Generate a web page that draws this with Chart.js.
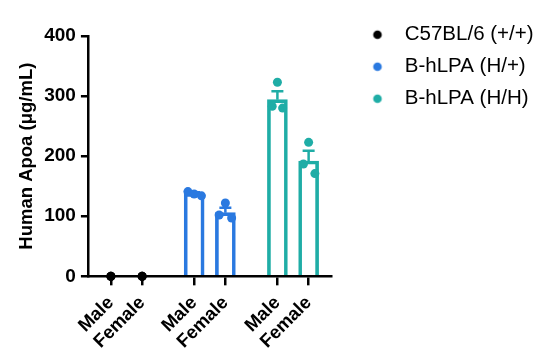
<!DOCTYPE html>
<html><head><meta charset="utf-8">
<script src="https://cdn.jsdelivr.net/npm/chart.js@4/dist/chart.umd.min.js"></script>
<style>html,body{margin:0;padding:0;background:#fff}canvas{display:block}</style>
</head><body>
<canvas id="c" width="538" height="361"></canvas>
<script>
// ---- data ----
const categories = ['Male', 'Female', 'Male', 'Female', 'Male', 'Female'];
const groups = ['C57BL/6 (+/+)', 'B-hLPA (H/+)', 'B-hLPA (H/H)'];
const c57Values = [[0, 0, 0], [0, 0, 0]];
const hPlusValues = [[141, 137, 134], [122, 102, 97]];
const hHValues = [[323, 283, 280], [223, 187, 171]];
const barMeans = [0, 0, 138, 106, 294, 192];
const barSEM = [0, 0, 2, 8, 14, 17];
const yTicks = [0, 100, 200, 300, 400];

// ---- layout / style ----
const slotPos = [0, 3, 8, 11, 16, 19];
const jitter = {
  c57: [[0, 0, 0], [0, 0, 0]],
  hPlus: [[-0.6, 0, 0.7], [0, -0.6, 0.6]],
  hH: [[0, -0.5, 0.5], [0, -0.5, 0.6]]
};
const colors = ['#000000', '#2a79e0', '#1fada6'];
const barColors = [colors[0], colors[0], colors[1], colors[1], colors[2], colors[2]];
const FONT = 'Arial, "Liberation Sans", Helvetica, sans-serif';

function pts(values, jit, first) {
  const out = [];
  values.forEach((arr, g) => arr.forEach((v, k) => out.push({ x: slotPos[first + g] + jit[g][k], y: v })));
  return out;
}

function legendDot(color) {
  const cv = document.createElement('canvas');
  cv.width = 30; cv.height = 12;
  const cx = cv.getContext('2d');
  cx.fillStyle = color;
  cx.beginPath(); cx.arc(24, 6, 4.3, 0, Math.PI * 2); cx.fill();
  return cv;
}

const errorBars = {
  id: 'errorBars',
  afterDatasetDraw(chart, args) {
    if (args.index !== 0) return;
    const { ctx, scales: { x, y } } = chart;
    ctx.save();
    ctx.lineWidth = 2.5;
    barMeans.forEach((m, i) => {
      if (!barSEM[i]) return;
      const px = x.getPixelForValue(slotPos[i]);
      const y0 = y.getPixelForValue(m);
      const y1 = y.getPixelForValue(m + barSEM[i]);
      ctx.strokeStyle = barColors[i];
      ctx.beginPath();
      ctx.moveTo(px, y0); ctx.lineTo(px, y1);
      ctx.moveTo(px - 6, y1); ctx.lineTo(px + 6, y1);
      ctx.stroke();
    });
    ctx.restore();
  }
};

new Chart(document.getElementById('c'), {
  type: 'bar',
  data: {
    datasets: [
      {
        type: 'bar', label: 'mean',
        data: barMeans.map((m, i) => ({ x: slotPos[i], y: m })),
        backgroundColor: 'rgba(255,255,255,0)',
        borderColor: barColors,
        borderWidth: barMeans.map(m => m > 0 ? 3 : 0),
        borderSkipped: 'start',
        barThickness: 20,
        order: 2
      },
      { type: 'scatter', label: groups[0], data: pts(c57Values, jitter.c57, 0), backgroundColor: colors[0], borderColor: colors[0], pointRadius: 4.5, borderWidth: 0, clip: false, order: 1 },
      { type: 'scatter', label: groups[1], data: pts(hPlusValues, jitter.hPlus, 2), backgroundColor: colors[1], borderColor: colors[1], pointRadius: 4.5, borderWidth: 0, clip: false, order: 1 },
      { type: 'scatter', label: groups[2], data: pts(hHValues, jitter.hH, 4), backgroundColor: colors[2], borderColor: colors[2], pointRadius: 4.5, borderWidth: 0, clip: false, order: 1 }
    ]
  },
  options: {
    responsive: false,
    animation: false,
    layout: { padding: { left: 16, top: 13, right: 0, bottom: 1.5 } },
    plugins: {
      tooltip: { enabled: false },
      title: {
        display: true, text: '', fullSize: false,
        font: { size: 1, lineHeight: 1 },
        padding: { top: 0, bottom: 22 }
      },
      legend: {
        position: 'right',
        align: 'start',
        maxWidth: 207,
        labels: {
          usePointStyle: true,
          pointStyleWidth: 52,
          boxWidth: 52, boxHeight: 20,
          padding: 11.5,
          color: '#000',
          font: { family: FONT, size: 20.5 },
          filter: (item) => item.datasetIndex > 0,
          generateLabels: (chart) => {
            const base = Chart.defaults.plugins.legend.labels.generateLabels(chart);
            return base.map(it => Object.assign(it, { pointStyle: legendDot(colors[it.datasetIndex - 1] || '#000') }));
          }
        }
      }
    },
    scales: {
      x: {
        type: 'linear',
        offset: false,
        min: -2.21, max: 21.15,
        afterBuildTicks: (scale) => { scale.ticks = slotPos.map(v => ({ value: v })); },
        ticks: {
          autoSkip: false,
          minRotation: 45, maxRotation: 45,
          padding: 8,
          color: '#000',
          font: { family: FONT, size: 18.5, weight: 'bold', lineHeight: 1 },
          callback: (v) => { const i = slotPos.indexOf(v); return i >= 0 ? categories[i] : ''; }
        },
        grid: { display: true, offset: false, drawOnChartArea: false, drawTicks: true, tickLength: 9, color: '#000', lineWidth: 2.5 },
        border: { display: true, color: '#000', width: 2.5 }
      },
      y: {
        min: 0, max: 400,
        afterBuildTicks: (scale) => { scale.ticks = yTicks.map(v => ({ value: v })); },
        ticks: {
          padding: 5,
          color: '#000',
          font: { family: FONT, size: 19, weight: 'bold' }
        },
        grid: { display: true, drawOnChartArea: false, drawTicks: true, tickLength: 7, color: '#000', lineWidth: 2.5 },
        border: { display: true, color: '#000', width: 2.5 },
        title: {
          display: true,
          text: 'Human Apoa (μg/mL)',
          color: '#000',
          font: { family: FONT, size: 18.5, weight: 'bold' },
          padding: { top: 0, bottom: 1 }
        }
      }
    }
  },
  plugins: [errorBars]
});
</script>
</body></html>
